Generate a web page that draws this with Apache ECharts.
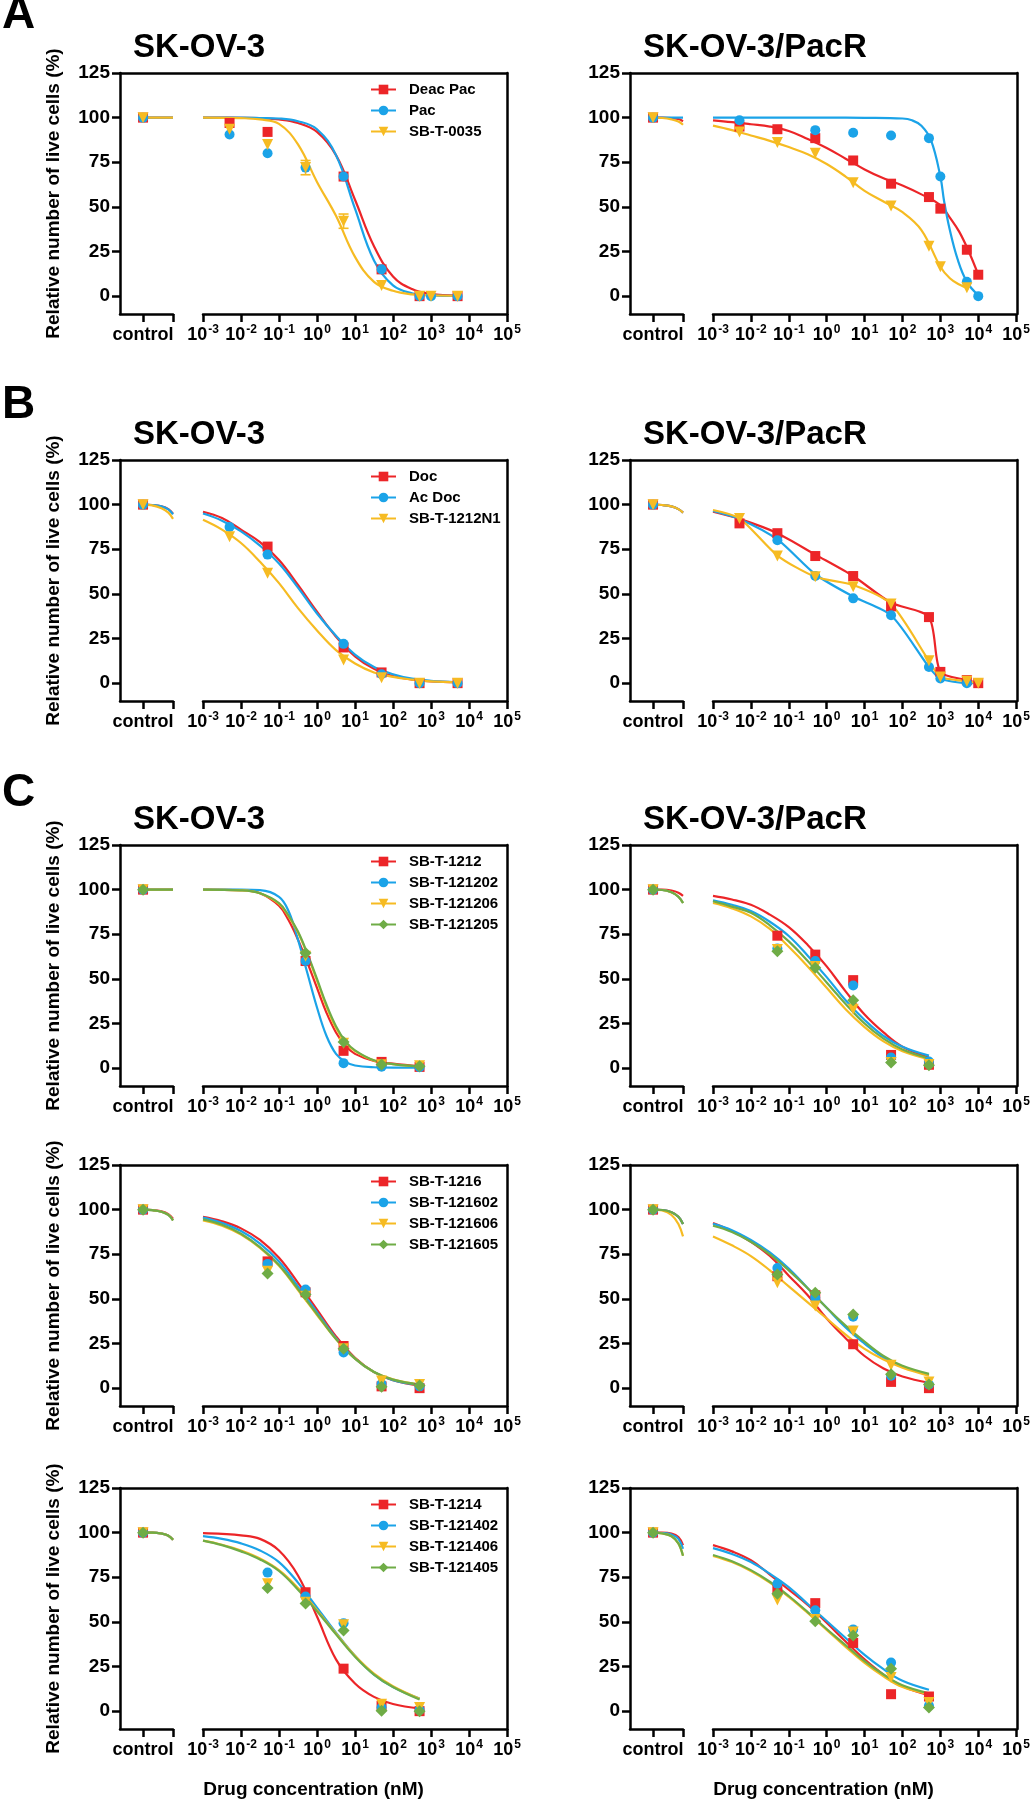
<!DOCTYPE html>
<html><head><meta charset="utf-8">
<script src="https://cdn.jsdelivr.net/npm/echarts@6/dist/echarts.min.js"></script>
<style>html,body{margin:0;padding:0;background:#fff}#c{width:1033px;height:1800px}</style>
</head><body><div id="c"></div>
<script>
// ---------------- data ----------------
const xDecadeExps = [-3, -2, -1, 0, 1, 2, 3, 4, 5];
const yTicks = [0, 25, 50, 75, 100, 125];
const ctrlLabel = 'control';
const ctrlX = [1, 1.4, 1.8, 2.1, 2.3];
const ctrlPoint = 100;

// A — SK-OV-3
const AL_names = ['Deac Pac', 'Pac', 'SB-T-0035'];
const AL_conc = [0.005, 0.05, 0.5, 5, 50, 500, 1000, 5000];
const AL_DeacPac = [97, 92, null, 67, 15, 0, null, 0];
const AL_Pac = [90.5, 80, 72, 67, 15, 0, 0, 0];
const AL_SBT0035 = [93.5, 85, 72, 42, 6, 0, 0, 0];
const AL_SBT0035_sd = [null, null, 4, 4, null, null, null, null];
const AL_fitX = [0.001, 0.01, 0.0316, 0.1, 0.316, 1, 3.16, 10, 31.6, 100, 316, 1000, 5000];
const AL_fit_DeacPac = [100, 99.9, 99.7, 99, 97, 92, 79, 54, 28, 11, 4, 1.3, 0.3];
const AL_fit_Pac = [100, 100, 99.8, 99.5, 98, 93.5, 79, 49, 20, 6, 1.6, 0.4, 0.1];
const AL_fit_SBT0035 = [100, 99.7, 99, 96.5, 85, 64, 45, 22, 8, 3, 1, 0.5, 0.2];
const AL_ctrl_DeacPac = [100, 100, 100, 100, 100];
const AL_ctrl_Pac = [100, 100, 100, 100, 100];
const AL_ctrl_SBT0035 = [100, 100, 100, 100, 100];

// A — SK-OV-3/PacR
const AR_conc = [0.005, 0.05, 0.5, 5, 50, 500, 1000, 5000, 10000];
const AR_DeacPac = [95, 93.5, 88.5, 76, 63, 55.5, 49, 26, 12];
const AR_Pac = [98.5, null, 93, 91.5, 90, 88.5, 67, 8, 0];
const AR_SBT0035 = [92, 86, 80, 63.5, 50.5, 28, 16.5, 4.7, null];
const AR_fitX = [0.001, 0.00316, 0.01, 0.0316, 0.1, 0.316, 1, 3.16, 10, 31.6, 100, 316, 1000, 1778, 3162, 5623, 10000];
const AR_fit_DeacPac = [98.5, 97.5, 96.3, 95, 92.5, 88, 83, 77, 71, 66, 62, 57, 51, 44, 36, 25, 12];
const AR_fitX_Pac = [0.001, 0.01, 0.1, 1, 10, 100, 178, 316, 562, 1000, 1259, 1778, 2818, 5012, 10000];
const AR_fit_Pac = [100, 100, 100, 100, 99.9, 99.5, 98.5, 95.5, 87.5, 67, 53, 37, 21, 8, 0.5];
const AR_fit_SBT0035 = [95.5, 93, 90, 87, 83.5, 79.5, 74, 67, 59, 53, 47, 37, 16.5, 10, 6.5, 4.2];
const AR_ctrl_DeacPac = [100, 100, 99.8, 99.2, 98];
const AR_ctrl_Pac = [100, 100, 100, 100, 100];
const AR_ctrl_SBT0035 = [100, 99.8, 99, 97.8, 96];

// B — SK-OV-3
const BL_names = ['Doc', 'Ac Doc', 'SB-T-1212N1'];
const BL_conc = [0.005, 0.05, 5, 50, 500, 5000];
const BL_Doc = [null, 76.5, 20, 6, 0, 0];
const BL_AcDoc = [87.5, 72, 22, 5, 0, 0];
const BL_SBT1212N1 = [82, 61.5, 13, 3, 0, 0];
const BL_fitX = [0.001, 0.00316, 0.01, 0.0316, 0.1, 0.316, 1, 3.16, 10, 31.6, 100, 316, 1000, 5000];
const BL_fit_Doc = [96, 92.5, 86, 79, 69, 55, 40, 26, 15, 8, 4, 2, 1, 0.5];
const BL_fit_AcDoc = [95, 91, 85, 77, 67, 53.5, 39, 26.5, 16, 9, 5, 2.5, 1.3, 0.5];
const BL_fit_SBT1212N1 = [91.5, 86, 78.5, 68, 56, 42, 29.5, 18.5, 11, 6, 3.5, 2, 1, 0.5];
const BL_ctrl_Doc = [100, 99.8, 99, 97.5, 95];
const BL_ctrl_AcDoc = [100, 99.8, 99, 97.3, 94.5];
const BL_ctrl_SBT1212N1 = [100, 99.6, 98, 95.5, 92];

// B — SK-OV-3/PacR
const BR_conc = [0.005, 0.05, 0.5, 5, 50, 500, 1000, 5000, 10000];
const BR_Doc = [89.5, 84, 71.2, 60, 43, 37, 6.3, 1.7, 0];
const BR_AcDoc = [null, 80, 60, 47.5, 38, 9, 2.6, 0, null];
const BR_SBT1212N1 = [92.3, 71.2, 59.6, 54, 44.3, 12.5, 3.5, 1.1, 0];
const BR_fitX = [0.001, 0.005, 0.05, 0.5, 5, 50, 500, 1000, 5000, 10000];
const BR_fit_Doc = [96, 92, 84, 72, 60, 45, 37, 6.3, 1.7, 0];
const BR_fit_AcDoc = [96.5, 92, 80.5, 61, 48.5, 38, 9, 2.6, 0, 0];
const BR_fit_SBT1212N1 = [97, 92.3, 71.5, 59.6, 55, 44.3, 12.5, 3.5, 1.1, 0];
const BR_ctrl_all = [100, 99.8, 99, 97.5, 95.5];

// C row 1 — SB-T-1212 family
const C1_names = ['SB-T-1212', 'SB-T-121202', 'SB-T-121206', 'SB-T-121205'];
const C1L_conc = [0.5, 5, 50, 500];
const C1L_1212 = [60, 9.7, 3.5, 0.7];
const C1L_121202 = [60, 2.8, 0.8, 0.5];
const C1L_121206 = [62.7, 14, 1.9, 1.4];
const C1L_121205 = [64.5, 14.7, 2, 1];
const C1L_fitX = [0.001, 0.01, 0.0316, 0.1, 0.178, 0.316, 0.562, 1, 1.78, 3.16, 5.62, 10, 31.6, 100, 500];
const C1L_fit_1212 = [100, 99.7, 98, 91, 83, 72, 59, 45, 31, 20, 12.5, 8, 4, 2.5, 1];
const C1L_fit_121202 = [100, 100, 99.7, 96, 88, 72, 53, 34, 18, 8, 3.5, 1.5, 0.5, 0.3, 0.3];
const C1L_fit_121206 = [100, 99.6, 98, 92, 85, 76, 63.5, 49, 34.5, 22.5, 14.5, 9.5, 4.2, 2.2, 1];
const C1L_fit_121205 = [100, 99.6, 98, 92.5, 85.5, 76.5, 64, 50, 35.5, 23.5, 15, 10, 4.4, 2.3, 1];
const C1L_ctrl_all = [100, 100, 100, 100, 100];

const C_conc = [0.05, 0.5, 5, 50, 500];
const C_fitX = [0.001, 0.00316, 0.01, 0.0316, 0.1, 0.316, 1, 3.16, 10, 31.6, 100, 500];
const C1R_1212 = [74.2, 63.6, 49.3, 7.4, 1.9];
const C1R_121202 = [67, 60, 46.3, 6, 3.7];
const C1R_121206 = [66.4, 57, 33, 3.2, 2];
const C1R_121205 = [65.5, 56.2, 38, 3.2, 1.6];
const C1R_fit_1212 = [96.5, 94.5, 91.5, 86, 79, 69, 57, 43, 30, 20, 12, 6];
const C1R_fit_121202 = [94, 91.5, 88, 82, 74, 63, 51, 38, 27, 18, 12, 7];
const C1R_fit_121206 = [92.5, 89.5, 85, 78, 68, 57, 45, 33, 23, 15, 9.5, 5];
const C1R_fit_121205 = [93.5, 90.5, 87, 80, 71, 60, 48, 36, 25, 16.5, 10.5, 5.5];
const C1R_ctrl_red = [100, 100, 99.5, 98.3, 96.5];
const C1R_ctrl_other = [100, 99.8, 98.5, 96, 92.5];

// C row 2 — SB-T-1216 family
const C2_names = ['SB-T-1216', 'SB-T-121602', 'SB-T-121606', 'SB-T-121605'];
const C2L_1216 = [71, 53.7, 23.6, 1, 0];
const C2L_121602 = [69.6, 55.2, 20, 2.3, 1];
const C2L_121606 = [65.5, 51.5, 22, 4, 2];
const C2L_121605 = [64.2, 52.5, 22, 0.8, 1.5];
const C2L_fit_1216 = [96, 93.5, 89.5, 83, 73, 59, 44, 29, 17, 9, 4.5, 1.5];
const C2L_fit_121602 = [95.5, 92.5, 88, 81, 71, 57, 42.5, 28, 16.5, 9, 4.5, 1.8];
const C2L_fit_121606 = [94, 91, 86, 78.5, 68.5, 55, 41, 27.5, 16.5, 9, 5, 2];
const C2L_fit_121605 = [94.5, 91.5, 86.5, 79, 69, 55.5, 41.5, 27.5, 16.5, 9, 4.8, 2];
const C2L_ctrl_red = [100, 99.8, 99, 97.5, 95];
const C2L_ctrl_other = [100, 99.7, 98.8, 97, 94];
const C2R_1216 = [62.7, 52, 24.6, 3.5, 0];
const C2R_121602 = [67.3, 50.6, 40, 7, 2];
const C2R_121606 = [59, 46, 32, 12.8, 3.5];
const C2R_121605 = [63.6, 53.4, 41.3, 7.8, 2];
const C2R_fit_1216 = [92.5, 88, 82, 74, 63, 52, 39, 28, 18, 11, 6.5, 3];
const C2R_fit_121602 = [92, 88.5, 83, 76, 67, 56, 45, 34, 25, 17, 12, 7.5];
const C2R_fit_121606 = [85, 80, 74, 66, 57, 48, 39, 30, 22, 16, 11.5, 7];
const C2R_fit_121605 = [91, 87.5, 82, 75, 66, 56, 45, 35, 26, 18, 12.5, 8];
const C2R_ctrl_yellow = [100, 99.5, 97, 92, 85];
const C2R_ctrl_other = [100, 99.8, 98.5, 96, 92];

// C row 3 — SB-T-1214 family
const C3_names = ['SB-T-1214', 'SB-T-121402', 'SB-T-121406', 'SB-T-121405'];
const C3L_1214 = [null, 66.6, 23.8, 3, 0];
const C3L_121402 = [77.6, 64.2, 49.3, 2, 0.6];
const C3L_121406 = [71.4, 61, 48.4, 3.9, 2];
const C3L_121405 = [69, 60.3, 45.2, 0.2, 0];
const C3L_fit_1214 = [99.7, 99.3, 98.5, 96.5, 90, 76, 53, 29, 15.5, 8, 4, 1.5];
const C3L_fit_121402 = [98, 96.5, 94, 90, 83.5, 72, 58, 44, 31, 20.5, 13.5, 7];
const C3L_fit_121406 = [95.5, 93.2, 90, 85.5, 79, 69, 56.5, 43.5, 31, 21, 14, 7];
const C3L_fit_121405 = [95.5, 93, 89.5, 85, 78.5, 68, 56, 43, 30.5, 20.5, 13.5, 6.5];
const C3L_ctrl_all = [100, 100, 99.5, 98.3, 96];
const C3R_1214 = [68, 60.5, 38.2, 9.5, 8.2];
const C3R_121402 = [71.4, 56.5, 45.8, 27.2, 3];
const C3R_121406 = [62.2, 51.4, 44.3, 18.8, 4.8];
const C3R_121405 = [65.8, 50.4, 42.4, 23.8, 2];
const C3R_fit_1214 = [93, 89.5, 84.5, 76.5, 68, 59.5, 49.5, 39, 29, 20.5, 14, 9];
const C3R_fit_121402 = [91.3, 88, 83.5, 77, 69.5, 60, 50.5, 41, 31.5, 23.5, 17, 12];
const C3R_fit_121406 = [87, 83.5, 78.5, 72, 64, 55, 45.5, 36, 27, 19.5, 13.5, 9.5];
const C3R_fit_121405 = [87.5, 84, 79, 72.5, 64.5, 55.5, 46, 37, 28, 20.5, 14.5, 10];
const C3R_ctrl_red = [100, 100, 99.5, 97.5, 93];
const C3R_ctrl_blue = [100, 99.8, 99, 96.5, 91];
const C3R_ctrl_other = [100, 99.5, 98, 94, 87];

// ---------------- styling / layout ----------------
const FONT = '"Liberation Sans", Arial, Helvetica, sans-serif';
const INK = '#000';
const AXW = 2.5;
const COLORS = { red: '#EC2528', blue: '#1BA3E8', yellow: '#F6BB22', green: '#6FAC46' };
const SYM = {
  red: { symbol: 'rect', rotate: 0, size: 10 },
  blue: { symbol: 'circle', rotate: 0, size: 10 },
  yellow: { symbol: 'triangle', rotate: 180, size: 11 },
  green: { symbol: 'diamond', rotate: 0, size: 12 }
};
const colLeft = [120, 630];
const rowTop = [73, 460, 845, 1165, 1488];
const PH = 241, BOXW = 387, CTLW = 53, MAINOFF = 83, MAINW = 304;
const K3 = ['red', 'blue', 'yellow'];
const K4 = ['red', 'blue', 'yellow', 'green'];

const panels = [
  { col: 0, row: 0, legend: true, names: AL_names, kinds: K3, conc: AL_conc,
    pts: [AL_DeacPac, AL_Pac, AL_SBT0035], sd: [null, null, AL_SBT0035_sd], fitX: [AL_fitX, AL_fitX, AL_fitX],
    fits: [AL_fit_DeacPac, AL_fit_Pac, AL_fit_SBT0035], ctrl: [AL_ctrl_DeacPac, AL_ctrl_Pac, AL_ctrl_SBT0035] },
  { col: 1, row: 0, legend: false, names: AL_names, kinds: K3, conc: AR_conc,
    pts: [AR_DeacPac, AR_Pac, AR_SBT0035], fitX: [AR_fitX, AR_fitX_Pac, AR_fitX],
    fits: [AR_fit_DeacPac, AR_fit_Pac, AR_fit_SBT0035], ctrl: [AR_ctrl_DeacPac, AR_ctrl_Pac, AR_ctrl_SBT0035] },
  { col: 0, row: 1, legend: true, names: BL_names, kinds: K3, conc: BL_conc,
    pts: [BL_Doc, BL_AcDoc, BL_SBT1212N1], fitX: [BL_fitX, BL_fitX, BL_fitX],
    fits: [BL_fit_Doc, BL_fit_AcDoc, BL_fit_SBT1212N1], ctrl: [BL_ctrl_Doc, BL_ctrl_AcDoc, BL_ctrl_SBT1212N1] },
  { col: 1, row: 1, legend: false, names: BL_names, kinds: K3, conc: BR_conc, smooth: 0.25,
    pts: [BR_Doc, BR_AcDoc, BR_SBT1212N1], fitX: [BR_fitX, BR_fitX, BR_fitX],
    fits: [BR_fit_Doc, BR_fit_AcDoc, BR_fit_SBT1212N1], ctrl: [BR_ctrl_all, BR_ctrl_all, BR_ctrl_all] },
  { col: 0, row: 2, legend: true, names: C1_names, kinds: K4, conc: C1L_conc,
    pts: [C1L_1212, C1L_121202, C1L_121206, C1L_121205], fitX: [C1L_fitX, C1L_fitX, C1L_fitX, C1L_fitX],
    fits: [C1L_fit_1212, C1L_fit_121202, C1L_fit_121206, C1L_fit_121205], ctrl: [C1L_ctrl_all, C1L_ctrl_all, C1L_ctrl_all, C1L_ctrl_all] },
  { col: 1, row: 2, legend: false, names: C1_names, kinds: K4, conc: C_conc,
    pts: [C1R_1212, C1R_121202, C1R_121206, C1R_121205], fitX: [C_fitX, C_fitX, C_fitX, C_fitX],
    fits: [C1R_fit_1212, C1R_fit_121202, C1R_fit_121206, C1R_fit_121205], ctrl: [C1R_ctrl_red, C1R_ctrl_other, C1R_ctrl_other, C1R_ctrl_other] },
  { col: 0, row: 3, legend: true, names: C2_names, kinds: K4, conc: C_conc,
    pts: [C2L_1216, C2L_121602, C2L_121606, C2L_121605], fitX: [C_fitX, C_fitX, C_fitX, C_fitX],
    fits: [C2L_fit_1216, C2L_fit_121602, C2L_fit_121606, C2L_fit_121605], ctrl: [C2L_ctrl_red, C2L_ctrl_other, C2L_ctrl_other, C2L_ctrl_other] },
  { col: 1, row: 3, legend: false, names: C2_names, kinds: K4, conc: C_conc,
    pts: [C2R_1216, C2R_121602, C2R_121606, C2R_121605], fitX: [C_fitX, C_fitX, C_fitX, C_fitX],
    fits: [C2R_fit_1216, C2R_fit_121602, C2R_fit_121606, C2R_fit_121605], ctrl: [C2R_ctrl_other, C2R_ctrl_other, C2R_ctrl_yellow, C2R_ctrl_other] },
  { col: 0, row: 4, legend: true, names: C3_names, kinds: K4, conc: C_conc,
    pts: [C3L_1214, C3L_121402, C3L_121406, C3L_121405], fitX: [C_fitX, C_fitX, C_fitX, C_fitX],
    fits: [C3L_fit_1214, C3L_fit_121402, C3L_fit_121406, C3L_fit_121405], ctrl: [C3L_ctrl_all, C3L_ctrl_all, C3L_ctrl_all, C3L_ctrl_all] },
  { col: 1, row: 4, legend: false, names: C3_names, kinds: K4, conc: C_conc,
    pts: [C3R_1214, C3R_121402, C3R_121406, C3R_121405], fitX: [C_fitX, C_fitX, C_fitX, C_fitX],
    fits: [C3R_fit_1214, C3R_fit_121402, C3R_fit_121406, C3R_fit_121405], ctrl: [C3R_ctrl_red, C3R_ctrl_blue, C3R_ctrl_other, C3R_ctrl_other] }
];

const titleTexts = [['SK-OV-3', 'SK-OV-3/PacR'], ['SK-OV-3', 'SK-OV-3/PacR'], ['SK-OV-3', 'SK-OV-3/PacR']];
const panelLetters = ['A', 'B', 'C'];
const yTitle = 'Relative number of live cells (%)';
const xTitle = 'Drug concentration (nM)';

// ---------------- build option ----------------
const lineStyle = { color: INK, width: AXW };
const hiddenAxisParts = { axisTick: { show: false }, axisLabel: { show: false }, splitLine: { show: false } };
function expFor(v) {
  for (const e of xDecadeExps) { if (Math.abs(v / Math.pow(10, e) - 1) < 1e-6) return e; }
  return null;
}
const grid = [], xAxis = [], yAxis = [], series = [], legend = [], title = [];

panels.forEach(p => {
  const L = colLeft[p.col], T = rowTop[p.row];
  const sm = p.smooth != null ? p.smooth : 0.4;
  const gBox = grid.length; grid.push({ left: L, top: T, width: BOXW, height: PH });
  const gCtl = grid.length; grid.push({ left: L, top: T, width: CTLW, height: PH });
  const gMain = grid.length; grid.push({ left: L + MAINOFF, top: T, width: MAINW, height: PH });

  xAxis.push(Object.assign({ gridIndex: gBox, type: 'value', position: 'top', min: 0, max: 1,
    axisLine: { show: true, onZero: false, lineStyle } }, hiddenAxisParts));
  if (p.row === 4) {
    xAxis.push(Object.assign({ gridIndex: gBox, type: 'value', position: 'bottom', min: 0, max: 1,
      axisLine: { show: false, onZero: false }, name: xTitle, nameLocation: 'middle', nameGap: 51,
      nameTextStyle: { fontSize: 19, fontWeight: 'bold', fontFamily: FONT, color: INK } }, hiddenAxisParts));
  }
  const xCtl = xAxis.length;
  xAxis.push({ gridIndex: gCtl, type: 'value', position: 'bottom', min: 0, max: 2.3,
    axisLine: { show: true, onZero: false, lineStyle },
    axisTick: { show: true, length: 8, lineStyle: { color: INK, width: AXW }, customValues: [1, 2.3] },
    axisLabel: { show: true, customValues: [1], margin: 10, formatter: () => ctrlLabel,
      fontSize: 18, fontWeight: 'bold', fontFamily: FONT, color: INK, lineHeight: 22 },
    splitLine: { show: false } });
  const xMain = xAxis.length;
  xAxis.push({ gridIndex: gMain, type: 'log', logBase: 10, position: 'bottom', min: 0.001, max: 100000, splitNumber: 8,
    axisLine: { show: true, onZero: false, lineStyle },
    axisTick: { show: true, length: 8, lineStyle: { color: INK, width: AXW } },
    minorTick: { show: false },
    axisLabel: { show: true, margin: 10, hideOverlap: false,
      formatter: v => { const e = expFor(v); return e === null ? '' : '{b|10}{s|' + e + '}'; },
      rich: {
        b: { fontSize: 18, fontWeight: 'bold', fontFamily: FONT, color: INK, lineHeight: 22 },
        s: { fontSize: 12, fontWeight: 'bold', fontFamily: FONT, color: INK, lineHeight: 13, verticalAlign: 'top', padding: [0, 0, 0, 1] }
      } },
    splitLine: { show: false } });

  yAxis.push({ gridIndex: gBox, type: 'value', position: 'left', min: -10, max: 125,
    axisLine: { show: true, onZero: false, lineStyle },
    axisTick: { show: true, length: 8, lineStyle: { color: INK, width: AXW }, customValues: yTicks },
    axisLabel: { show: true, margin: 10, customValues: yTicks, fontSize: 19, fontWeight: 'bold', fontFamily: FONT, color: INK },
    splitLine: { show: false },
    name: p.col === 0 ? yTitle : '', nameLocation: 'middle', nameGap: 57,
    nameTextStyle: { fontSize: 19, fontWeight: 'bold', fontFamily: FONT, color: INK } });
  yAxis.push(Object.assign({ gridIndex: gBox, type: 'value', position: 'right', min: -10, max: 125,
    axisLine: { show: true, onZero: false, lineStyle } }, hiddenAxisParts));
  const yCtl = yAxis.length;
  yAxis.push({ gridIndex: gCtl, type: 'value', min: -10, max: 125, show: false });
  const yMain = yAxis.length;
  yAxis.push({ gridIndex: gMain, type: 'value', min: -10, max: 125, show: false });

  p.names.forEach((nm, i) => {
    const k = p.kinds[i], c = COLORS[k], s = SYM[k];
    const fx = p.fitX[i], fy = p.fits[i];
    series.push({ type: 'line', name: nm, xAxisIndex: xMain, yAxisIndex: yMain,
      data: fy.map((v, j) => [fx[j], v]), smooth: sm,
      showSymbol: false, symbol: s.symbol, symbolRotate: s.rotate, symbolSize: s.size,
      lineStyle: { color: c, width: 2.2 }, itemStyle: { color: c }, z: 2, silent: true });
    series.push({ type: 'line', name: nm, xAxisIndex: xCtl, yAxisIndex: yCtl,
      data: p.ctrl[i].map((v, j) => [ctrlX[j], v]), smooth: 0.4,
      showSymbol: false, symbol: s.symbol, lineStyle: { color: c, width: 2.2 }, itemStyle: { color: c }, z: 2, silent: true });
  });
  p.names.forEach((nm, i) => {
    const k = p.kinds[i], c = COLORS[k], s = SYM[k];
    const sd = p.sd && p.sd[i];
    if (sd) {
      const errData = p.conc.map((x, j) => (sd[j] != null && p.pts[i][j] != null) ? [x, p.pts[i][j] - sd[j], p.pts[i][j] + sd[j]] : null).filter(d => d);
      series.push({ type: 'custom', name: nm, xAxisIndex: xMain, yAxisIndex: yMain, data: errData, z: 3, silent: true,
        renderItem: (params, api) => {
          const lo = api.coord([api.value(0), api.value(1)]);
          const hi = api.coord([api.value(0), api.value(2)]);
          const w = 5, st = { stroke: c, lineWidth: 1.6 };
          return { type: 'group', children: [
            { type: 'line', shape: { x1: lo[0], y1: lo[1], x2: hi[0], y2: hi[1] }, style: st },
            { type: 'line', shape: { x1: lo[0] - w, y1: lo[1], x2: lo[0] + w, y2: lo[1] }, style: st },
            { type: 'line', shape: { x1: hi[0] - w, y1: hi[1], x2: hi[0] + w, y2: hi[1] }, style: st }
          ] };
        } });
    }
    series.push({ type: 'scatter', name: nm, xAxisIndex: xMain, yAxisIndex: yMain,
      data: p.conc.map((x, j) => [x, p.pts[i][j]]).filter(d => d[1] !== null),
      symbol: s.symbol, symbolRotate: s.rotate, symbolSize: s.size, itemStyle: { color: c, opacity: 1 }, z: 3 });
    series.push({ type: 'scatter', name: nm, xAxisIndex: xCtl, yAxisIndex: yCtl,
      data: [[1, ctrlPoint]], symbol: s.symbol, symbolRotate: s.rotate, symbolSize: s.size,
      itemStyle: { color: c, opacity: 1 }, z: 3 });
  });

  if (p.legend) {
    legend.push({ orient: 'vertical', left: L + 250, top: T + 9, padding: 0, itemGap: 6,
      itemWidth: 25, itemHeight: 12, selectedMode: false, data: p.names.slice(),
      textStyle: { fontSize: 15, fontWeight: 'bold', fontFamily: FONT, color: INK, padding: [0, 0, 0, 8] } });
  }
});

titleTexts.forEach((pair, r) => {
  pair.forEach((t, c) => {
    title.push({ text: t, left: colLeft[c] + 13, top: rowTop[r] - 42, padding: 0,
      textStyle: { fontSize: 33, fontWeight: 'bold', fontFamily: FONT, color: INK } });
  });
});
const letterTops = [-8, 382, 770];
panelLetters.forEach((t, r) => {
  title.push({ text: t, left: 2, top: letterTops[r], padding: 0,
    textStyle: { fontSize: 46, fontWeight: 'bold', fontFamily: FONT, color: INK } });
});

const chart = echarts.init(document.getElementById('c'), null, { renderer: 'canvas' });
chart.setOption({
  animation: false,
  backgroundColor: '#fff',
  textStyle: { fontFamily: FONT },
  title, legend, grid, xAxis, yAxis, series,
  tooltip: { show: false }
});
</script></body></html>
